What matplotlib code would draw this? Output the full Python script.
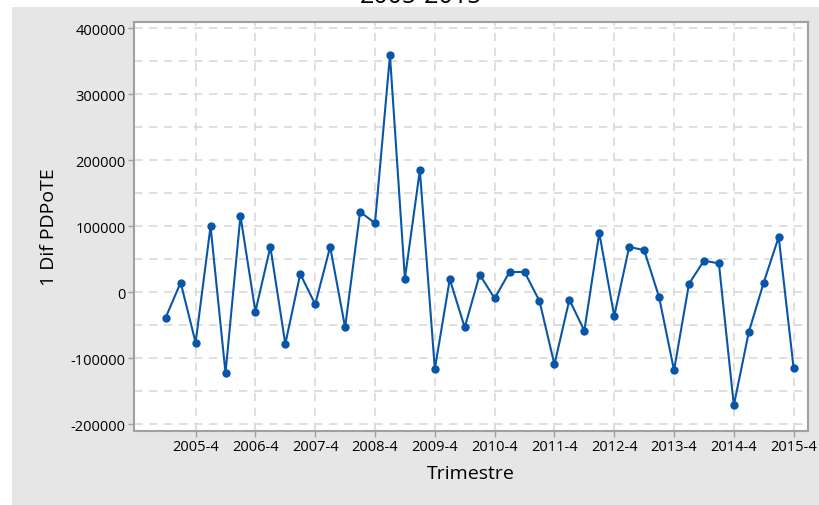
import matplotlib
matplotlib.use("Agg")
import matplotlib.pyplot as plt
from matplotlib.patches import Rectangle
from matplotlib.ticker import MultipleLocator, FixedLocator

plt.rcParams['font.family'] = ['Open Sans', 'DejaVu Sans']

# Data: quarterly first difference, 2005-2 .. 2015-4
quarters = [f"{y}-{q}" for y in range(2005, 2016) for q in (1, 2, 3, 4)][1:]
values = [
    -38000, 15000, -76000, 100000, -122000, 116000, -29000, 69000, -78000, 28000,
    -18000, 69000, -53000, 122000, 105000, 359000, 21000, 185000, -116000, 20000,
    -53000, 27000, -9000, 31000, 31000, -13000, -109000, -11000, -58000, 90000,
    -36000, 69000, 64000, -7000, -118000, 13000, 48000, 44000, -171000, -60000,
    15000, 84000, -115000,
]
tick_labels = [f"{y}-4" for y in range(2005, 2016)]
y_label = "1 Dif PDPoTE"
x_label = "Trimestre"
title = "2005-2015"

W, H = 819, 506
fig = plt.figure(figsize=(W / 100, H / 100), dpi=100, facecolor="white")
fig.patches.append(Rectangle((11.5 / W, 0), 1 - 11.5 / W, 1 - 8 / H,
                             transform=fig.transFigure, facecolor="#e6e6e6",
                             edgecolor="none", zorder=-5))
fig.text(421 / W, 1 - 3 / H, title, ha="center", va="baseline", fontsize=18,
         color="black")

left, right, top, bottom = 134, 808, 22.5, 431.7
ax = fig.add_axes([left / W, 1 - bottom / H, (right - left) / W, (bottom - top) / H])
ax.set_zorder(2)
ax.set_facecolor("white")

x = list(range(len(values)))
ax.plot(x, values, color="#0856a8", lw=1.5, marker="o", ms=5, zorder=3)

ax.set_xlim(-2.12, 42.96)
ax.set_ylim(-209400, 410300)

tick_pos = [quarters.index(t) for t in tick_labels]
ax.xaxis.set_major_locator(FixedLocator(tick_pos))
ax.set_xticklabels(tick_labels)
ax.yaxis.set_major_locator(MultipleLocator(100000))
ax.yaxis.set_minor_locator(MultipleLocator(50000))
ax.yaxis.set_major_formatter(matplotlib.ticker.FuncFormatter(lambda v, p: f"{int(v)}"))

grid_kw = dict(color="#d9d9d9", lw=1.2, linestyle=(0, (5, 4)))
ax.grid(True, which="major", axis="x", **grid_kw)
ax.grid(True, which="both", axis="y", **grid_kw)
ax.set_axisbelow(True)

ax.tick_params(axis="both", which="major", length=4, width=1, color="#a0a0a0",
               labelsize=10.5, labelcolor="black", pad=2)
ax.tick_params(axis="y", which="minor", length=0)
for s in ax.spines.values():
    s.set_color("#a0a0a0")
    s.set_linewidth(1.5)

ax.set_ylabel(y_label, fontsize=14, color="black", labelpad=9)
ax.set_xlabel(x_label, fontsize=14, color="black", labelpad=7)

fig.savefig("out.png", dpi=100, facecolor=fig.get_facecolor())
